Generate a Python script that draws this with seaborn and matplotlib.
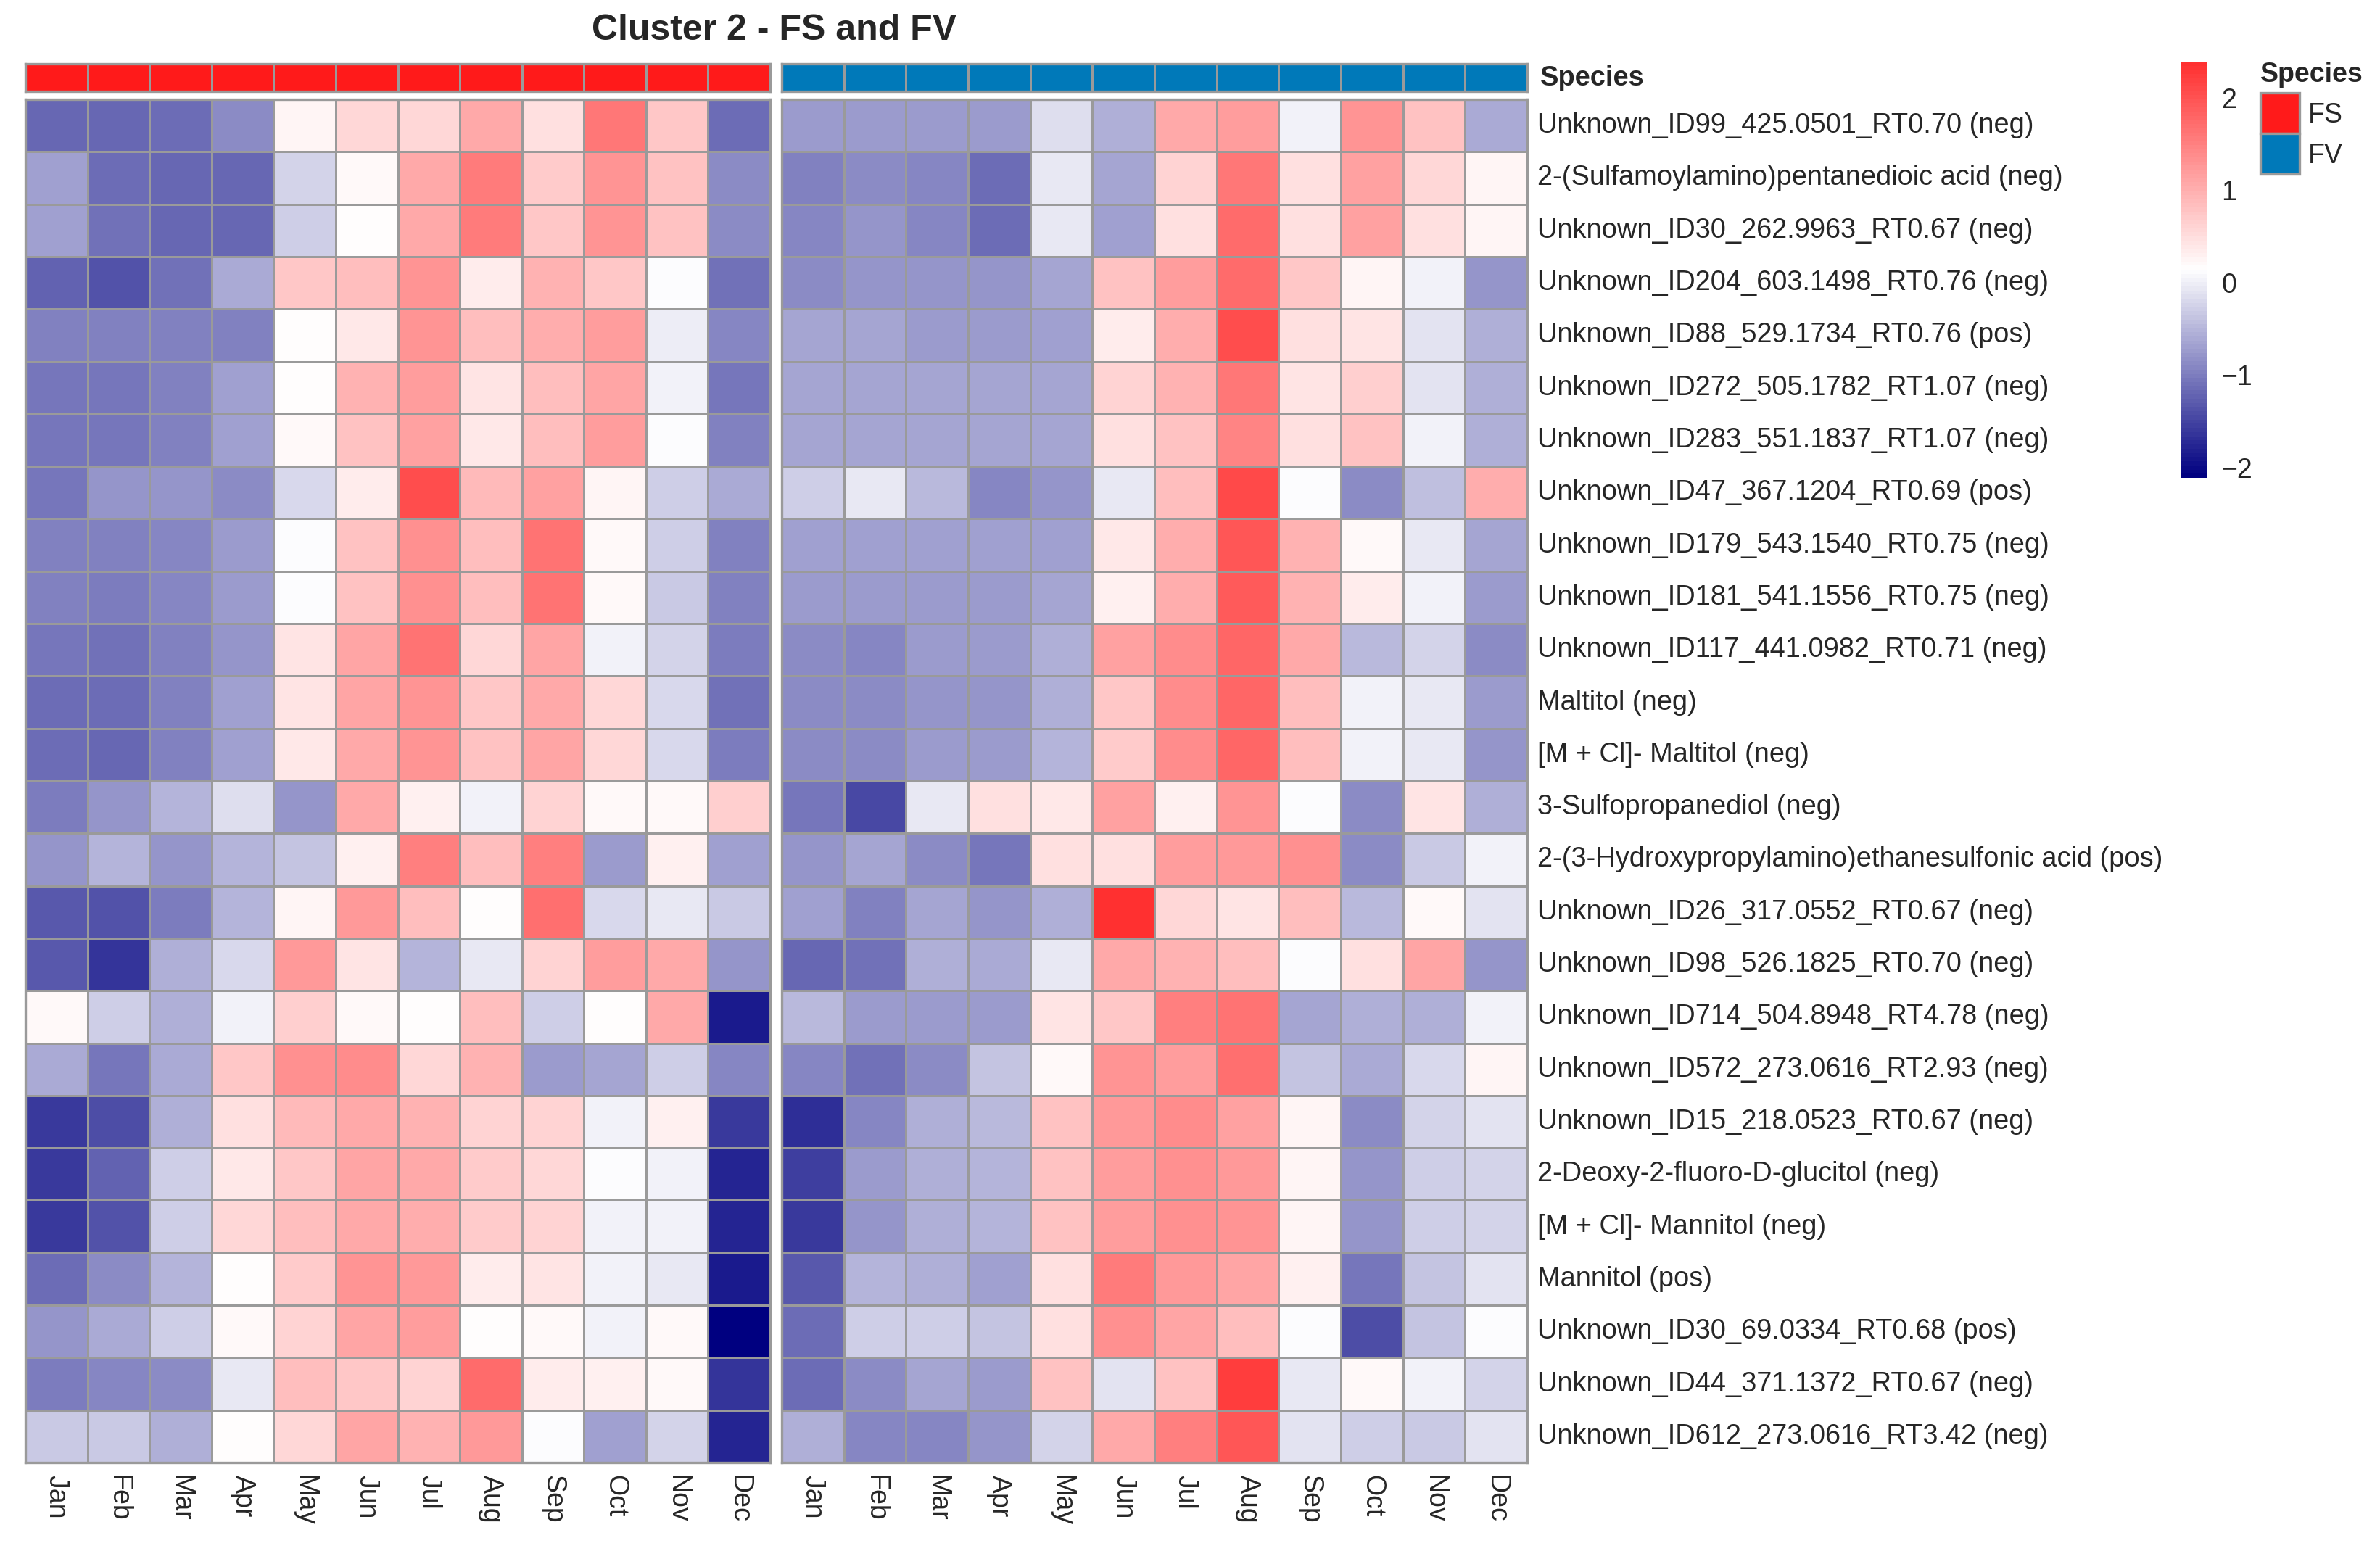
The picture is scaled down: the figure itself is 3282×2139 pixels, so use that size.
import numpy as np
import pandas as pd
import matplotlib
matplotlib.use("Agg")
import matplotlib.pyplot as plt
import seaborn as sns
from matplotlib.colors import LinearSegmentedColormap, ListedColormap
from matplotlib.patches import Rectangle

sns.set_theme(style="white")
plt.rcParams['font.family'] = ['Liberation Sans', 'DejaVu Sans']

# Datos
months = ["Jan", "Feb", "Mar", "Apr", "May", "Jun", "Jul", "Aug", "Sep", "Oct", "Nov", "Dec"]
compounds = [
    "Unknown_ID99_425.0501_RT0.70 (neg)",
    "2-(Sulfamoylamino)pentanedioic acid (neg)",
    "Unknown_ID30_262.9963_RT0.67 (neg)",
    "Unknown_ID204_603.1498_RT0.76 (neg)",
    "Unknown_ID88_529.1734_RT0.76 (pos)",
    "Unknown_ID272_505.1782_RT1.07 (neg)",
    "Unknown_ID283_551.1837_RT1.07 (neg)",
    "Unknown_ID47_367.1204_RT0.69 (pos)",
    "Unknown_ID179_543.1540_RT0.75 (neg)",
    "Unknown_ID181_541.1556_RT0.75 (neg)",
    "Unknown_ID117_441.0982_RT0.71 (neg)",
    "Maltitol (neg)",
    "[M + Cl]- Maltitol (neg)",
    "3-Sulfopropanediol (neg)",
    "2-(3-Hydroxypropylamino)ethanesulfonic acid (pos)",
    "Unknown_ID26_317.0552_RT0.67 (neg)",
    "Unknown_ID98_526.1825_RT0.70 (neg)",
    "Unknown_ID714_504.8948_RT4.78 (neg)",
    "Unknown_ID572_273.0616_RT2.93 (neg)",
    "Unknown_ID15_218.0523_RT0.67 (neg)",
    "2-Deoxy-2-fluoro-D-glucitol (neg)",
    "[M + Cl]- Mannitol (neg)",
    "Mannitol (pos)",
    "Unknown_ID30_69.0334_RT0.68 (pos)",
    "Unknown_ID44_371.1372_RT0.67 (neg)",
    "Unknown_ID612_273.0616_RT3.42 (neg)",
]

fs_values = [
    [-1.2, -1.2, -1.15, -0.85, 0.25, 0.55, 0.55, 1.05, 0.5, 1.6, 0.75, -1.15],
    [-0.7, -1.15, -1.2, -1.2, -0.25, 0.2, 1.05, 1.55, 0.7, 1.3, 0.8, -0.85],
    [-0.7, -1.1, -1.2, -1.2, -0.3, 0.15, 1.05, 1.55, 0.75, 1.3, 0.8, -0.85],
    [-1.25, -1.35, -1.1, -0.6, 0.75, 0.85, 1.3, 0.35, 0.95, 0.75, 0.12, -1.1],
    [-0.95, -0.95, -0.95, -0.95, 0.18, 0.4, 1.3, 0.85, 1.0, 1.2, 0.0, -0.9],
    [-1.05, -1.05, -0.95, -0.7, 0.14, 0.95, 1.2, 0.45, 0.85, 1.1, 0.05, -1.05],
    [-1.05, -1.05, -0.95, -0.7, 0.2, 0.8, 1.15, 0.4, 0.85, 1.2, 0.12, -0.95],
    [-1.05, -0.8, -0.8, -0.85, -0.2, 0.35, 2.05, 0.9, 1.15, 0.25, -0.3, -0.6],
    [-0.95, -0.95, -0.9, -0.75, 0.12, 0.8, 1.35, 0.85, 1.65, 0.2, -0.3, -0.95],
    [-0.95, -1.0, -0.9, -0.75, 0.12, 0.8, 1.35, 0.85, 1.65, 0.2, -0.35, -0.95],
    [-1.05, -1.1, -0.95, -0.8, 0.45, 1.1, 1.65, 0.55, 1.1, 0.05, -0.25, -1.0],
    [-1.15, -1.15, -0.95, -0.7, 0.45, 1.1, 1.3, 0.75, 1.05, 0.55, -0.2, -1.1],
    [-1.15, -1.2, -0.95, -0.7, 0.4, 1.05, 1.3, 0.8, 1.1, 0.55, -0.2, -1.0],
    [-1.0, -0.8, -0.5, -0.15, -0.8, 1.05, 0.3, 0.02, 0.6, 0.22, 0.2, 0.65],
    [-0.8, -0.5, -0.8, -0.5, -0.4, 0.3, 1.5, 0.85, 1.5, -0.75, 0.3, -0.7],
    [-1.3, -1.35, -1.0, -0.5, 0.25, 1.25, 0.85, 0.18, 1.7, -0.2, -0.05, -0.35],
    [-1.3, -1.65, -0.55, -0.2, 1.25, 0.45, -0.5, -0.05, 0.6, 1.2, 1.05, -0.8],
    [0.22, -0.3, -0.55, 0.02, 0.65, 0.2, 0.14, 0.85, -0.28, 0.15, 1.05, -1.85],
    [-0.6, -1.05, -0.6, 0.75, 1.35, 1.4, 0.55, 0.95, -0.75, -0.65, -0.3, -0.9],
    [-1.6, -1.4, -0.55, 0.5, 0.9, 1.05, 0.95, 0.6, 0.6, 0.05, 0.3, -1.6],
    [-1.6, -1.25, -0.28, 0.4, 0.75, 1.1, 1.05, 0.7, 0.55, 0.12, 0.05, -1.75],
    [-1.6, -1.35, -0.28, 0.55, 0.85, 1.05, 1.0, 0.7, 0.6, 0.05, 0.05, -1.75],
    [-1.15, -0.85, -0.5, 0.14, 0.7, 1.3, 1.25, 0.35, 0.45, 0.05, -0.05, -1.85],
    [-0.8, -0.6, -0.3, 0.2, 0.6, 1.1, 1.2, 0.18, 0.22, 0.05, 0.2, -2.11],
    [-1.0, -0.9, -0.85, -0.05, 0.85, 0.75, 0.6, 1.75, 0.35, 0.28, 0.2, -1.65],
    [-0.35, -0.35, -0.55, 0.18, 0.55, 1.1, 0.95, 1.25, 0.12, -0.7, -0.25, -1.75],
]

fv_values = [
    [-0.75, -0.75, -0.75, -0.72, -0.15, -0.55, 1.05, 1.2, 0.05, 1.3, 0.8, -0.6],
    [-0.95, -0.85, -0.9, -1.15, -0.05, -0.65, 0.6, 1.6, 0.5, 1.15, 0.55, 0.25],
    [-0.9, -0.8, -0.9, -1.15, -0.05, -0.7, 0.5, 1.75, 0.5, 1.15, 0.5, 0.25],
    [-0.85, -0.8, -0.8, -0.8, -0.65, 0.8, 1.2, 1.75, 0.75, 0.25, 0.02, -0.8],
    [-0.65, -0.65, -0.72, -0.72, -0.7, 0.35, 1.0, 2.05, 0.5, 0.42, -0.12, -0.55],
    [-0.65, -0.65, -0.65, -0.65, -0.65, 0.6, 0.95, 1.6, 0.45, 0.65, -0.12, -0.55],
    [-0.65, -0.65, -0.65, -0.65, -0.65, 0.5, 0.8, 1.45, 0.5, 0.8, 0.02, -0.55],
    [-0.3, -0.05, -0.45, -0.9, -0.8, -0.05, 0.85, 2.1, 0.12, -0.85, -0.42, 1.0],
    [-0.7, -0.7, -0.7, -0.7, -0.7, 0.4, 1.0, 1.95, 0.95, 0.22, -0.05, -0.65],
    [-0.72, -0.72, -0.75, -0.72, -0.65, 0.3, 1.0, 1.9, 0.95, 0.35, 0.03, -0.75],
    [-0.85, -0.9, -0.75, -0.75, -0.55, 1.15, 1.4, 1.8, 1.05, -0.45, -0.25, -0.85],
    [-0.85, -0.85, -0.8, -0.8, -0.55, 0.75, 1.4, 1.8, 0.85, 0.05, -0.05, -0.75],
    [-0.85, -0.85, -0.75, -0.72, -0.5, 0.7, 1.4, 1.8, 0.85, 0.05, -0.05, -0.8],
    [-1.05, -1.45, -0.05, 0.5, 0.4, 1.15, 0.3, 1.3, 0.13, -0.85, 0.42, -0.55],
    [-0.8, -0.65, -0.85, -1.05, 0.5, 0.5, 1.2, 1.25, 1.35, -0.85, -0.35, 0.02],
    [-0.7, -0.95, -0.65, -0.8, -0.55, 2.39, 0.55, 0.45, 0.85, -0.45, 0.22, -0.12],
    [-1.2, -1.1, -0.55, -0.6, -0.05, 1.05, 0.95, 0.85, 0.12, 0.5, 1.1, -0.8],
    [-0.45, -0.75, -0.75, -0.72, 0.42, 0.75, 1.5, 1.65, -0.65, -0.55, -0.55, 0.03],
    [-0.9, -1.1, -0.85, -0.4, 0.22, 1.3, 1.2, 1.7, -0.4, -0.6, -0.2, 0.25],
    [-1.7, -0.9, -0.55, -0.45, 0.8, 1.25, 1.4, 1.15, 0.25, -0.85, -0.25, -0.12],
    [-1.55, -0.75, -0.55, -0.5, 0.8, 1.2, 1.35, 1.25, 0.25, -0.8, -0.3, -0.25],
    [-1.6, -0.8, -0.55, -0.5, 0.8, 1.2, 1.35, 1.3, 0.25, -0.8, -0.3, -0.25],
    [-1.3, -0.5, -0.55, -0.7, 0.5, 1.55, 1.25, 1.1, 0.3, -1.05, -0.4, -0.12],
    [-1.15, -0.28, -0.3, -0.4, 0.5, 1.35, 1.1, 0.85, 0.12, -1.4, -0.4, 0.12],
    [-1.15, -0.85, -0.65, -0.72, 0.8, -0.12, 0.8, 2.25, -0.05, 0.2, 0.02, -0.25],
    [-0.55, -0.9, -0.9, -0.8, -0.25, 1.05, 1.5, 1.95, -0.12, -0.28, -0.35, -0.12],
]

species = ["FS", "FV"]
species_colors = ["#FF1A1A", "#0079B9"]

# Figura
W, H = 3282, 2139
fig = plt.figure(figsize=(W / 200, H / 200), dpi=200)


def box(x0, y0, x1, y1):
    return [x0 / W, 1 - y1 / H, (x1 - x0) / W, (y1 - y0) / H]


cmap = LinearSegmentedColormap.from_list("nwr", ["navy", "white", "#FF3030"], N=100)
vmin, vmax = -2.11, 2.39
grid_color = "#9a9a9a"

df_fs = pd.DataFrame(fs_values, index=compounds, columns=months)
df_fv = pd.DataFrame(fv_values, index=compounds, columns=months)

panels = [(df_fs, 35, 1062), (df_fv, 1078, 2106)]
cbar_ax = fig.add_axes(box(3007, 85, 3044, 659))
heat_axes = []

for i, (df, x0, x1) in enumerate(panels):
    # barra de anotación de especie
    ax_a = fig.add_axes(box(x0, 88, x1, 126))
    sns.heatmap([[0] * 12], ax=ax_a, cmap=ListedColormap([species_colors[i]]),
                cbar=False, linewidths=0.9, linecolor=grid_color,
                xticklabels=False, yticklabels=False)
    for s in ax_a.spines.values():
        s.set_visible(True)
        s.set_color(grid_color)
        s.set_linewidth(1.2)

    # mapa de calor
    ax = fig.add_axes(box(x0, 137, x1, 2017))
    sns.heatmap(df, ax=ax, cmap=cmap, vmin=vmin, vmax=vmax,
                linewidths=0.9, linecolor=grid_color,
                cbar=(i == 1), cbar_ax=cbar_ax if i == 1 else None,
                xticklabels=months, yticklabels=(i == 1))
    heat_axes.append(ax)
    for s in ax.spines.values():
        s.set_visible(True)
        s.set_color(grid_color)
        s.set_linewidth(1.2)
    ax.set_xlabel("")
    ax.set_ylabel("")
    ax.tick_params(axis="both", length=0, pad=6)
    plt.setp(ax.get_xticklabels(), rotation=270, ha="center", va="top", fontsize=13.5)
    if i == 1:
        ax.yaxis.tick_right()
        plt.setp(ax.get_yticklabels(), rotation=0, ha="left", va="center", fontsize=13.7)
        ax.tick_params(axis="y", pad=5)

# barra de color
cb = heat_axes[1].collections[0].colorbar
cb.outline.set_visible(False)
cb.set_ticks([-2, -1, 0, 1, 2])
cb.set_ticklabels(["\u22122", "\u22121", "0", "1", "2"])
cb.ax.tick_params(length=0, labelsize=13.5, pad=7)

# textos
fig.text(1068 / W, 1 - 42 / H, "Cluster 2 - FS and FV", ha="center", va="center",
         fontsize=18, fontweight="bold")
fig.text(2124 / W, 1 - 108 / H, "Species", ha="left", va="center",
         fontsize=13.7, fontweight="bold")

# leyenda de especies
fig.text(3117 / W, 1 - 103 / H, "Species", ha="left", va="center",
         fontsize=13.5, fontweight="bold")
for j, (name, col) in enumerate(zip(species, species_colors)):
    y0 = 128 + j * 56
    fig.patches.append(Rectangle((3117 / W, 1 - (y0 + 56) / H), 54 / W, 56 / H,
                                 transform=fig.transFigure, facecolor=col,
                                 edgecolor=grid_color, linewidth=1.2))
    fig.text(3183 / W, 1 - (y0 + 31) / H, name, ha="left", va="center", fontsize=13.5)

plt.savefig("out.png", dpi=200)
plt.close()
